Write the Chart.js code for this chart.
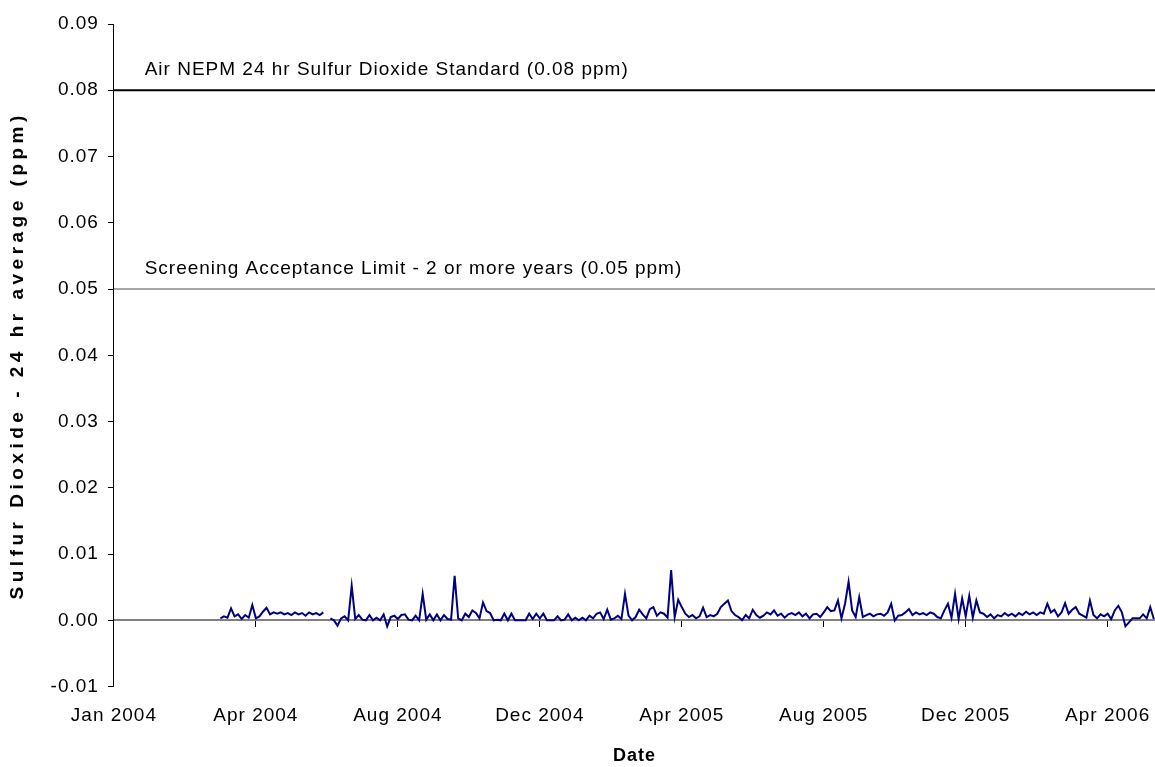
<!DOCTYPE html>
<html lang="en">
<head>
<meta charset="UTF-8">
<title>Sulfur Dioxide - 24 hr average</title>
<script src="https://cdn.jsdelivr.net/npm/chart.js@4.4.1/dist/chart.umd.min.js"></script>
<style>
    body {
        margin: 0;
        background-color: white;
    }
</style>
</head>
<body>
<canvas id="so2Chart" width="1155" height="767"></canvas>

<script>
    // days counted from 1 Jan 2004, one reading every 3 days starting at day 90
    const firstDay = 90;
    const stepDays = 3;
    const so2 = [
        0.0003,0.0006,0.0004,0.0018,0.0006,0.0009,0.0002,0.0008,0.0004,0.0023,
        0.0003,0.0006,0.0013,0.0019,0.0009,0.0012,0.0010,0.0012,0.0009,0.0011,
        0.0008,0.0012,0.0009,0.0011,0.0007,0.0012,0.0009,0.0011,0.0008,0.0012,
        null,  0.0003,0.0000,-0.0008,0.0003,0.0006,0.0000,0.0052,0.0002,0.0008,
        0.0001,0.0000,0.0008,0.0000,0.0004,0.0000,0.0009,-0.0009,0.0005,0.0007,
        0.0002,0.0008,0.0009,0.0001,0.0000,0.0007,0.0000,0.0040,0.0001,0.0009,
        0.0000,0.0009,0.0000,0.0008,0.0002,0.0001,0.0067,0.0003,0.0000,0.0010,
        0.0005,0.0015,0.0011,0.0003,0.0027,0.0014,0.0011,0.0000,0.0001,0.0000,
        0.0010,0.0000,0.0010,0.0000,0.0000,0.0000,0.0000,0.0010,0.0002,0.0010,
        0.0003,0.0010,0.0000,0.0000,0.0000,0.0006,0.0000,0.0001,0.0009,0.0000,
        0.0004,0.0000,0.0004,0.0000,0.0007,0.0003,0.0010,0.0012,0.0002,0.0016,
        0.0001,0.0003,0.0007,0.0002,0.0040,0.0007,0.0000,0.0005,0.0016,0.0009,
        0.0003,0.0017,0.0020,0.0007,0.0012,0.0010,0.0004,0.0076,0.0005,0.0031,
        0.0020,0.0010,0.0005,0.0008,0.0003,0.0006,0.0019,0.0005,0.0008,0.0006,
        0.0010,0.0020,0.0025,0.0030,0.0014,0.0008,0.0005,0.0000,0.0008,0.0003,
        0.0016,0.0008,0.0004,0.0007,0.0012,0.0009,0.0015,0.0007,0.0010,0.0004,
        0.0009,0.0011,0.0008,0.0012,0.0006,0.0010,0.0003,0.0009,0.0010,0.0005,
        0.0012,0.0020,0.0014,0.0015,0.0030,0.0003,0.0025,0.0058,0.0015,0.0005,
        0.0035,0.0005,0.0008,0.0010,0.0006,0.0009,0.0010,0.0007,0.0012,0.0025,
        0.0000,0.0007,0.0008,0.0012,0.0017,0.0008,0.0012,0.0009,0.0011,0.0008,
        0.0012,0.0010,0.0005,0.0003,0.0015,0.0025,0.0004,0.0040,0.0002,0.0033,
        0.0006,0.0037,0.0004,0.0030,0.0012,0.0010,0.0005,0.0009,0.0003,0.0008,
        0.0006,0.0011,0.0007,0.0010,0.0006,0.0011,0.0008,0.0013,0.0009,0.0012,
        0.0008,0.0012,0.0010,0.0025,0.0012,0.0016,0.0006,0.0012,0.0026,0.0010,
        0.0016,0.0020,0.0010,0.0007,0.0004,0.0030,0.0008,0.0003,0.0009,0.0006,
        0.0010,0.0002,0.0015,0.0022,0.0012,-0.0009,-0.0003,0.0003,0.0003,0.0003,
        0.0009,0.0003,0.0020,0.0002
    ];

    const axisEnd = 880;
    const tickDays = [0, 120, 240, 360, 480, 600, 720, 840];
    const tickLabels = ['Jan 2004', 'Apr 2004', 'Aug 2004', 'Dec 2004', 'Apr 2005', 'Aug 2005', 'Dec 2005', 'Apr 2006'];

    const limitLevels = [0.08, 0.05];
    const limitNames = [
        'Air NEPM 24 hr Sulfur Dioxide Standard (0.08 ppm)',
        'Screening Acceptance Limit - 2 or more years (0.05 ppm)'
    ];
    const limitColours = ['#000000', '#a6a6a6'];
    const labelDay = 26;

    const yTitle = 'Sulfur Dioxide - 24 hr average (ppm)';

    const so2Points = so2.map((v, i) => ({ x: firstDay + i * stepDays, y: v }));

    const fontFamily = '"Liberation Sans", Arial, sans-serif';
    Chart.defaults.font.family = fontFamily;
    Chart.defaults.font.size = 19;
    Chart.defaults.color = '#000';

    // Excel style loose letter spacing
    const spacing = {
        id: 'spacing',
        beforeUpdate(chart) { chart.ctx.letterSpacing = '1px'; },
        beforeDraw(chart) { chart.ctx.letterSpacing = '1px'; }
    };

    const limitText = {
        id: 'limitText',
        afterDatasetsDraw(chart) {
            const ctx = chart.ctx;
            const x = chart.scales.x, y = chart.scales.y;
            ctx.save();
            ctx.font = '19px ' + fontFamily;
            ctx.fillStyle = '#000';
            ctx.textAlign = 'left';
            ctx.textBaseline = 'alphabetic';
            limitLevels.forEach((lv, i) => {
                ctx.fillText(limitNames[i], x.getPixelForValue(labelDay), y.getPixelForValue(lv) - 15);
            });
            ctx.restore();
        }
    };

    // rotated y title, drawn wide like the original
    const yTitleText = {
        id: 'yTitleText',
        afterDraw(chart) {
            const ctx = chart.ctx;
            const area = chart.chartArea;
            ctx.save();
            ctx.translate(18, (area.top + area.bottom) / 2);
            ctx.rotate(-Math.PI / 2);
            ctx.font = 'bold 19px ' + fontFamily;
            ctx.letterSpacing = '4.5px';
            ctx.fillStyle = '#000';
            ctx.textAlign = 'center';
            ctx.textBaseline = 'middle';
            ctx.fillText(yTitle, 0, 0);
            ctx.restore();
        }
    };

    const setTicks = scale => { scale.ticks = tickDays.map(v => ({ value: v })); };

    const datasets = [{
        label: 'Sulfur Dioxide',
        data: so2Points,
        borderColor: '#000080',
        borderWidth: 2,
        pointRadius: 0,
        tension: 0,
        spanGaps: false
    }];
    limitLevels.forEach((lv, i) => {
        datasets.push({
            label: limitNames[i],
            data: [{ x: 0, y: lv }, { x: axisEnd, y: lv }],
            borderColor: limitColours[i],
            borderWidth: 2,
            pointRadius: 0
        });
    });

    new Chart(document.getElementById('so2Chart'), {
        type: 'line',
        data: { datasets: datasets },
        options: {
            responsive: false,
            animation: false,
            layout: { padding: { top: 24, right: 0, bottom: 0, left: 41.6 } },
            plugins: {
                legend: { display: false },
                tooltip: { enabled: false }
            },
            scales: {
                x: {
                    type: 'linear',
                    position: { y: 0 },
                    min: 0,
                    max: axisEnd,
                    afterBuildTicks: setTicks,
                    ticks: { display: false },
                    grid: { drawOnChartArea: false, tickLength: 6, color: '#000' },
                    border: { color: '#808080', width: 2 }
                },
                x2: {
                    type: 'linear',
                    position: 'bottom',
                    min: 0,
                    max: axisEnd,
                    afterBuildTicks: setTicks,
                    afterFit: s => { s.paddingRight = 0; },
                    ticks: {
                        padding: 18,
                        maxRotation: 0,
                        callback: v => tickLabels[tickDays.indexOf(v)]
                    },
                    grid: { display: false, drawTicks: false },
                    border: { display: false },
                    title: {
                        display: true,
                        text: 'Date',
                        font: { size: 18, weight: 'bold' },
                        padding: { top: 0, bottom: 0 }
                    }
                },
                y: {
                    min: -0.01,
                    max: 0.09,
                    ticks: {
                        stepSize: 0.01,
                        padding: 9,
                        callback: v => (Math.abs(v) < 1e-9 ? 0 : v).toFixed(2)
                    },
                    grid: { drawOnChartArea: false, tickLength: 6, color: '#000' },
                    border: { color: '#000', width: 1 }
                }
            }
        },
        plugins: [spacing, limitText, yTitleText]
    });
</script>
</body>
</html>
